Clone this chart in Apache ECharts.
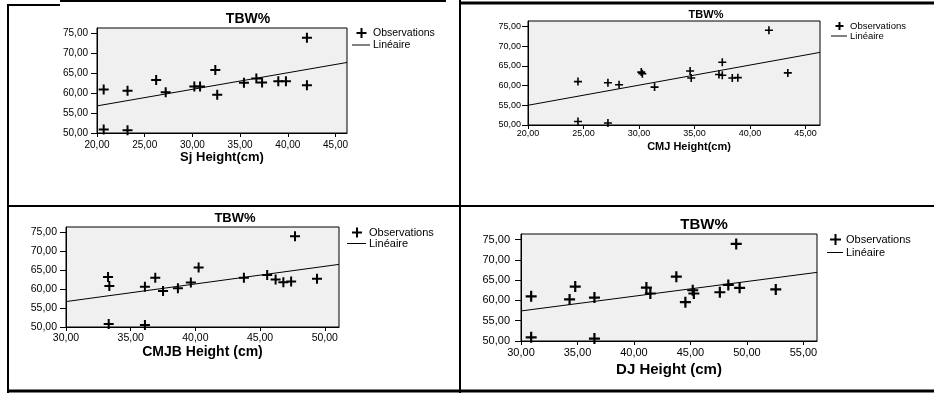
<!DOCTYPE html>
<html>
<head>
<meta charset="utf-8">
<script src="https://cdn.jsdelivr.net/npm/echarts@6/dist/echarts.min.js"></script>
<style>
html,body{margin:0;padding:0;background:#fff;}
#c{width:934px;height:396px;}
</style>
</head>
<body>
<div id="c"></div>
<script>
// ---- Data ----
const yTicks = [50, 55, 60, 65, 70, 75];
const xTicksSj = [20, 25, 30, 35, 40, 45];
const xTicksCmj = [20, 25, 30, 35, 40, 45];
const xTicksCmjb = [30, 35, 40, 45, 50];
const xTicksDj = [30, 35, 40, 45, 50, 55];

const sjX = [20.7, 20.7, 23.2, 23.2, 26.2, 27.2, 30.2, 30.8, 32.4, 32.6, 35.4, 36.7, 37.3, 39.0, 39.8, 42.0, 42.0];
const sjY = [60.9, 50.9, 60.6, 50.7, 63.3, 60.2, 61.7, 61.7, 65.8, 59.6, 62.6, 63.7, 62.7, 63.0, 63.0, 73.9, 62.0];
const sjFit = [[20, 56.8], [46.2, 67.7]];

const cmjX = [24.5, 24.5, 27.2, 27.2, 28.2, 30.2, 30.3, 31.4, 34.6, 34.7, 37.2, 37.5, 37.5, 38.4, 38.9, 41.7, 43.4];
const cmjY = [61.0, 50.9, 60.7, 50.5, 60.2, 63.4, 63.0, 59.6, 63.7, 61.9, 62.8, 62.6, 65.9, 61.9, 62.0, 74.0, 63.2];
const cmjFit = [[20, 55.0], [46.3, 68.4]];

const cmjbX = [33.25, 33.35, 33.3, 36.1, 36.1, 36.9, 37.5, 38.65, 39.65, 40.25, 43.75, 45.55, 46.2, 46.8, 47.4, 47.7, 49.4];
const cmjbY = [63.2, 60.8, 50.8, 60.6, 50.5, 63.0, 59.5, 60.2, 61.7, 65.7, 63.0, 63.7, 62.5, 61.8, 62.0, 73.9, 62.7];
const cmjbFit = [[30, 56.7], [51.1, 66.5]];

const djX = [30.9, 30.9, 34.3, 34.8, 36.5, 36.5, 41.1, 41.45, 43.75, 44.55, 45.2, 45.3, 47.6, 48.35, 49.05, 49.35, 52.55];
const djY = [61.0, 50.9, 60.25, 63.4, 60.7, 50.6, 63.15, 61.7, 65.85, 59.55, 62.5, 61.7, 62.0, 63.8, 73.9, 63.1, 62.7];
const djFit = [[30, 57.4], [56.2, 66.9]];

const titleText = 'TBW%';
const xNames = ['Sj Height(cm)', 'CMJ Height(cm)', 'CMJB Height (cm)', 'DJ Height (cm)'];
const legendNames = ['Observations', 'Linéaire'];

// ---- Layout ----
const FONT = '"Liberation Sans", Arial, Helvetica, sans-serif';
const panels = [
  {xs: sjX, ys: sjY, fit: sjFit, xt: xTicksSj, xmin: 20, xmax: 46.2,
   grid: {left: 97, top: 28, width: 250, height: 105},
   title: {x: 248, top: 12, size: 14}, tick: 10, ylm: 9, xlm: 7, name: {size: 13, gap: 17, pad: 0},
   leg: {left: 352, top: 27, w: 18, h: 12, size: 10.5}, ms: 10},
  {xs: cmjX, ys: cmjY, fit: cmjFit, xt: xTicksCmj, xmin: 20, xmax: 46.3,
   grid: {left: 528, top: 21, width: 292, height: 104},
   title: {x: 706, top: 9, size: 11}, tick: 9, ylm: 7, xlm: 4, name: {size: 11, gap: 16, pad: 30},
   leg: {left: 831, top: 21, w: 16, h: 8, size: 9.5}, ms: 8},
  {xs: cmjbX, ys: cmjbY, fit: cmjbFit, xt: xTicksCmjb, xmin: 30, xmax: 51.1,
   grid: {left: 66, top: 227, width: 273, height: 100},
   title: {x: 235, top: 212, size: 13}, tick: 10.5, ylm: 9, xlm: 6, name: {size: 14, gap: 17, pad: 0},
   leg: {left: 347, top: 227, w: 19, h: 10, size: 11}, ms: 10},
  {xs: djX, ys: djY, fit: djFit, xt: xTicksDj, xmin: 30, xmax: 56.2,
   grid: {left: 521, top: 234, width: 296, height: 107},
   title: {x: 704, top: 217, size: 15}, tick: 11, ylm: 11, xlm: 6, name: {size: 15, gap: 21, pad: 0},
   leg: {left: 827, top: 233, w: 16, h: 13, size: 11}, ms: 11}
];

const fmt = v => v.toFixed(2).replace('.', ',');
const plusPath = 'path://M4,0H6V4H10V6H6V10H4V6H0V4H4Z';
function plusIcon(w, h, s) {
  const cx = w / 2 + 0.5, cy = h / 2, a = s / 2, t = 1;
  return 'path://M0,0M' + w + ',' + h +
    'M' + (cx - t) + ',' + (cy - a) + 'H' + (cx + t) + 'V' + (cy - t) + 'H' + (cx + a) + 'V' + (cy + t) +
    'H' + (cx + t) + 'V' + (cy + a) + 'H' + (cx - t) + 'V' + (cy + t) + 'H' + (cx - a) + 'V' + (cy - t) +
    'H' + (cx - t) + 'Z';
}
function lineIcon(w, h) {
  const cy = h / 2;
  return 'path://M0,0M' + w + ',' + h + 'M0,' + (cy - 0.5) + 'H' + w + 'V' + (cy + 0.5) + 'H0Z';
}

const option = {
  animation: false,
  textStyle: {fontFamily: FONT},
  grid: [], xAxis: [], yAxis: [], series: [], title: [], legend: [],
  graphic: []
};

panels.forEach((p, i) => {
  option.grid.push(Object.assign({show: true, backgroundColor: '#f0f0f0', borderColor: '#000', borderWidth: 1, containLabel: false}, p.grid));
  option.xAxis.push({
    type: 'value', gridIndex: i, min: p.xmin, max: p.xmax, interval: 5,
    name: xNames[i], nameLocation: 'middle', nameGap: p.name.gap,
    nameTextStyle: {fontSize: p.name.size, fontWeight: 'bold', color: '#000', fontFamily: FONT, padding: [0, 0, 0, p.name.pad]},
    axisLine: {show: true, onZero: false, lineStyle: {color: '#000', width: 1}},
    axisTick: {show: true, length: 4, lineStyle: {color: '#000'}, customValues: p.xt},
    axisLabel: {color: '#000', fontSize: p.tick, margin: p.xlm, formatter: fmt, customValues: p.xt, fontFamily: FONT},
    splitLine: {show: false}
  });
  option.yAxis.push({
    type: 'value', gridIndex: i, min: 50, max: 76.35, interval: 5,
    axisLine: {show: true, onZero: false, lineStyle: {color: '#000', width: 1}},
    axisTick: {show: true, length: 6, lineStyle: {color: '#000'}, customValues: yTicks},
    axisLabel: {color: '#000', fontSize: p.tick, margin: p.ylm, formatter: fmt, customValues: yTicks, fontFamily: FONT},
    splitLine: {show: false}
  });
  option.series.push({
    type: 'scatter', name: legendNames[0], xAxisIndex: i, yAxisIndex: i,
    data: p.xs.map((x, k) => [x, p.ys[k]]),
    symbol: plusPath, symbolSize: p.ms,
    itemStyle: {color: '#000', opacity: 1}, silent: true
  });
  option.series.push({
    type: 'line', name: legendNames[1], xAxisIndex: i, yAxisIndex: i,
    data: p.fit, showSymbol: false, symbol: 'none',
    lineStyle: {color: '#000', width: 1}, itemStyle: {color: '#000'}, silent: true
  });
  option.title.push({
    text: titleText, left: p.title.x, top: p.title.top, textAlign: 'center', padding: 0,
    textStyle: {fontSize: p.title.size, fontWeight: 'bold', color: '#000', fontFamily: FONT}
  });
  option.legend.push({
    left: p.leg.left, top: p.leg.top, orient: 'vertical', padding: 0, itemGap: 0,
    itemWidth: p.leg.w, itemHeight: p.leg.h, selectedMode: false,
    itemStyle: {color: '#000', borderWidth: 0},
    textStyle: {fontSize: p.leg.size, color: '#000', fontFamily: FONT, lineHeight: p.leg.h, padding: [0, 0, 0, -2]},
    data: [
      {name: legendNames[0], icon: plusIcon(p.leg.w, p.leg.h, p.ms)},
      {name: legendNames[1], icon: lineIcon(p.leg.w, p.leg.h)}
    ]
  });
});

// frame lines of the table
const frame = [
  [8, 4, 8, 393, 2],
  [8, 5, 60, 5, 2],
  [60, 1, 446, 1, 2],
  [460, 0, 460, 393, 2],
  [459, 3, 934, 3, 3],
  [8, 206, 934, 206, 2],
  [8, 391, 934, 391, 3]
];
frame.forEach(f => option.graphic.push({
  type: 'line', silent: true,
  shape: {x1: f[0], y1: f[1], x2: f[2], y2: f[3]},
  style: {stroke: '#000', lineWidth: f[4]}
}));

const chart = echarts.init(document.getElementById('c'), null, {renderer: 'canvas'});
chart.setOption(option);
</script>
</body>
</html>
